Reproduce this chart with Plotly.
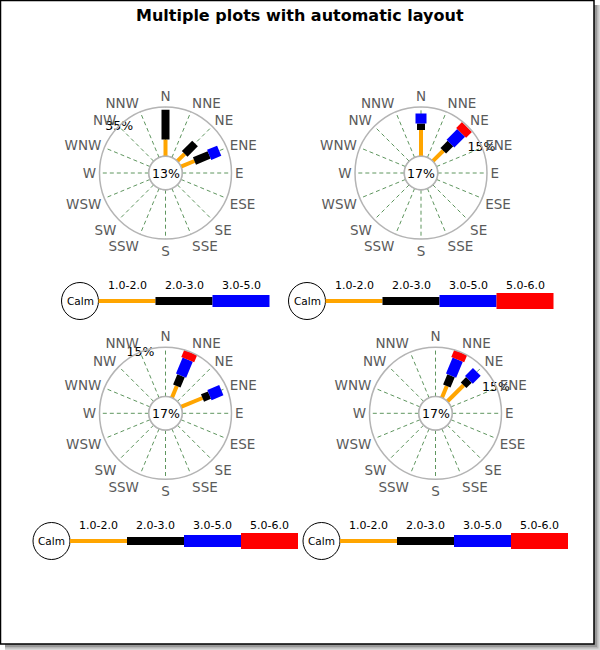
import numpy as np
import plotly.graph_objects as go

W, H = 600, 650

# ---------------- data ----------------
DIRS = ['N', 'NNE', 'NE', 'ENE', 'E', 'ESE', 'SE', 'SSE',
        'S', 'SSW', 'SW', 'WSW', 'W', 'WNW', 'NW', 'NNW']
RANGE_LABELS = ['1.0-2.0', '2.0-3.0', '3.0-5.0', '5.0-6.0']
RANGE_COLORS = ['#FFA500', '#000000', '#0000FF', '#FF0000']

calm_pct = [13, 17, 17, 17]
scale_max = [35, 15, 15, 15]
scale_label_dir = ['NW', 'ENE', 'NNW', 'ENE']
n_ranges = [3, 4, 4, 4]

plot1_legs = {'N': [12, 21], 'NE': [7.4, 10.4], 'ENE': [10.4, 11.3, 7.7]}
plot2_legs = {'N': [8, 2, 3], 'NE': [4.5, 3.1, 4.6, 2.5]}
plot3_legs = {'NNE': [3.9, 3.4, 5.3, 2.4], 'ENE': [7.1, 2.3, 3.9]}
plot4_legs = {'NNE': [3.9, 3.4, 5.3, 2.4], 'NE': [7.0, 2.3, 3.4]}
all_legs = [plot1_legs, plot2_legs, plot3_legs, plot4_legs]

# ---------------- layout constants ----------------
centers = [(165.5, 173), (421, 173), (165.5, 413.3), (435.5, 413.3)]
R = 66.0
CALM_R = 16.7
leg_widths = [4, 8, 11, 14]
legend_y = [301, 301, 541, 541]
legend_heights = [4, 8, 12, 16]
SEG = 57
LCR = 18.5

FONT = 'DejaVu Sans'
TICK_COLOR = '#5a5a5a'
GRID_COLOR = '#5f965f'
CIRCLE_COLOR = '#b4b4b4'


def px(x):
    return x / W


def py(y):
    return 1 - y / H


def ang(d):
    return DIRS.index(d) * 22.5


fig = go.Figure()
shapes = []
annotations = []

# frame with shadow
for off, col in [(0, '#d8d8d8'), (1.5, '#b8b8b8'), (3, '#989898')]:
    shapes.append(dict(type='rect', xref='paper', yref='paper', layer='below',
                       x0=px(5), y0=py(650 - off), x1=px(600 - off), y1=py(5),
                       fillcolor=col, line=dict(width=0)))
shapes.append(dict(type='rect', xref='paper', yref='paper', layer='below',
                   x0=px(0.5), y0=py(644), x1=px(594), y1=py(0.5),
                   fillcolor='white', line=dict(color='black', width=1.5)))

annotations.append(dict(text='Multiple plots with automatic layout',
                        x=0.5, y=py(16), xref='paper', yref='paper',
                        showarrow=False, xanchor='center', yanchor='middle',
                        font=dict(family=FONT, size=16, color='black', weight='bold')))

circle_theta = np.arange(0, 361, 5)

for i in range(4):
    cx, cy = centers[i]
    pname = 'polar' if i == 0 else f'polar{i + 1}'
    sub = 'polar' if i == 0 else f'polar{i + 1}'
    fig.update_layout(**{pname: dict(
        domain=dict(x=[px(cx - R), px(cx + R)], y=[py(cy + R), py(cy - R)]),
        hole=CALM_R / R,
        bgcolor='white',
        radialaxis=dict(visible=False, range=[0, scale_max[i]]),
        angularaxis=dict(rotation=90, direction='clockwise', thetaunit='degrees',
                         tickmode='array', tickvals=[ang(d) for d in DIRS],
                         ticktext=DIRS, ticks='',
                         tickfont=dict(family=FONT, size=13.5, color=TICK_COLOR),
                         showgrid=True, gridcolor=GRID_COLOR, griddash='4px,3px',
                         gridwidth=1, showline=True, linecolor=CIRCLE_COLOR,
                         linewidth=1.5),
    )})

    # calm circle
    fig.add_trace(go.Scatterpolar(r=[0] * len(circle_theta), theta=circle_theta,
                                  mode='lines', line=dict(color=CIRCLE_COLOR, width=1.5),
                                  subplot=sub, showlegend=False, hoverinfo='skip'))
    # legs
    for d, vals in all_legs[i].items():
        base = 0
        for k, v in enumerate(vals):
            fig.add_trace(go.Scatterpolar(
                r=[base, base + v], theta=[ang(d), ang(d)], mode='lines',
                line=dict(color=RANGE_COLORS[k], width=leg_widths[k]),
                subplot=sub, showlegend=False, cliponaxis=False, hoverinfo='skip'))
            base += v
    # scale label
    fig.add_trace(go.Scatterpolar(
        r=[scale_max[i] * 0.99], theta=[ang(scale_label_dir[i])], mode='text',
        text=[f'{scale_max[i]}%'], textposition='middle center',
        textfont=dict(family=FONT, size=12.5, color='black'),
        subplot=sub, showlegend=False, cliponaxis=False, hoverinfo='skip'))
    # calm percentage
    annotations.append(dict(text=f'{calm_pct[i]}%', x=px(cx), y=py(cy),
                            xref='paper', yref='paper', showarrow=False,
                            xanchor='center', yanchor='middle',
                            font=dict(family=FONT, size=12.5, color='black')))

    # legend
    n = n_ranges[i]
    ly = legend_y[i]
    total = 2 * LCR + n * SEG
    left = cx - total / 2
    ccx = left + LCR
    shapes.append(dict(type='circle', xref='paper', yref='paper', layer='above',
                       x0=px(ccx - LCR), x1=px(ccx + LCR),
                       y0=py(ly + LCR), y1=py(ly - LCR),
                       fillcolor='white', line=dict(color='black', width=1)))
    annotations.append(dict(text='Calm', x=px(ccx), y=py(ly), xref='paper', yref='paper',
                            showarrow=False, xanchor='center', yanchor='middle',
                            font=dict(family=FONT, size=10.5, color='black')))
    for k in range(n):
        x0 = left + 2 * LCR + k * SEG
        hh = legend_heights[k] / 2
        shapes.append(dict(type='rect', xref='paper', yref='paper', layer='above',
                           x0=px(x0), x1=px(x0 + SEG), y0=py(ly + hh), y1=py(ly - hh),
                           fillcolor=RANGE_COLORS[k], line=dict(width=0)))
        annotations.append(dict(text=RANGE_LABELS[k], x=px(x0 + SEG / 2), y=py(ly - 16),
                                xref='paper', yref='paper', showarrow=False,
                                xanchor='center', yanchor='middle',
                                font=dict(family=FONT, size=11, color='black')))

fig.update_layout(width=W, height=H, margin=dict(l=0, r=0, t=0, b=0),
                  paper_bgcolor='white', shapes=shapes, annotations=annotations,
                  showlegend=False)

fig.write_html('out.html', config={'displayModeBar': False},
               post_script="document.body.style.margin='0';document.body.style.padding='0';")
